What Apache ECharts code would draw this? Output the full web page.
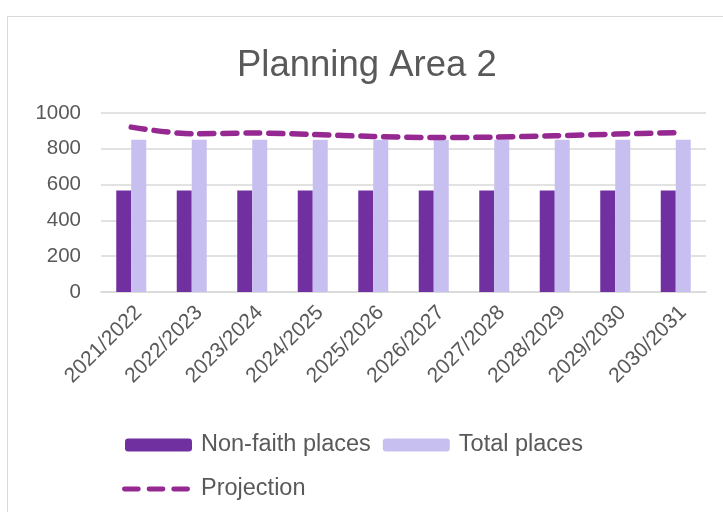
<!DOCTYPE html>
<html><head><meta charset="utf-8">
<script src="https://cdn.jsdelivr.net/npm/echarts@6/dist/echarts.min.js"></script>
<style>html,body{margin:0;padding:0;background:#fff}#c{width:723px;height:512px}</style>
</head><body><div id="c"></div>
<script>
const categories = ['2021/2022','2022/2023','2023/2024','2024/2025','2025/2026','2026/2027','2027/2028','2028/2029','2029/2030','2030/2031'];
const nonFaith = [567,567,567,567,567,567,567,567,567,567];
const totalPlaces = [851,851,851,851,851,851,851,851,851,851];
const projection = [921,884,888,880,869,863,865,873,882,890];
const yTicks = [0,200,400,600,800,1000];

const chart = echarts.init(document.getElementById('c'));
const font = '"Liberation Sans", Arial, sans-serif';
chart.setOption({
  animation: false,
  graphic: [{type:'rect', shape:{x:7.5,y:16.5,width:730,height:520}, style:{fill:'none', stroke:'#d9d9d9', lineWidth:1}}],
  title: {text:'Planning Area 2', left:232, top:42, textStyle:{fontFamily:font, fontSize:36.5, fontWeight:'normal', color:'#595959'}},
  grid: {left:101, right:17, top:113, bottom:220, containLabel:false},
  legend: [
    {data:['Non-faith places','Total places'], left:120, top:428, itemWidth:67, itemHeight:13, itemGap:12,
     textStyle:{fontFamily:font, fontSize:23.5, color:'#595959', padding:[0,0,0,4]}},
    {data:[{name:'Projection', icon:'path://M2,0h14a2,2 0 0 1 0,5h-14a2,2 0 0 1 0,-5z M27,0h14a2,2 0 0 1 0,5h-14a2,2 0 0 1 0,-5z M52,0h14a2,2 0 0 1 0,5h-14a2,2 0 0 1 0,-5z'}],
     left:117, top:472, itemWidth:68, itemHeight:5,
     textStyle:{fontFamily:font, fontSize:23.5, color:'#595959', padding:[0,0,0,6]}}
  ],
  xAxis: {type:'category', data:categories, axisTick:{show:false},
    axisLine:{lineStyle:{color:'#d9d9d9', width:1.5}},
    axisLabel:{rotate:45, fontFamily:font, fontSize:21, color:'#595959', margin:10, interval:0, verticalAlign:'top', align:'right'}},
  yAxis: {type:'value', min:0, max:1000, interval:200, axisLine:{show:false}, axisTick:{show:false},
    splitLine:{lineStyle:{color:'#d9d9d9', width:1.5}},
    axisLabel:{fontFamily:font, fontSize:20.5, color:'#595959', margin:20,
      formatter: v => yTicks.includes(v) ? String(v) : ''}},
  series: [
    {name:'Non-faith places', type:'bar', data:nonFaith, barWidth:15, barGap:'0%', itemStyle:{color:'#7030a0'}},
    {name:'Total places', type:'bar', data:totalPlaces, barWidth:15, barGap:'0%', itemStyle:{color:'#c7bfef'}},
    {name:'Projection', type:'line', data:projection, symbol:'none', smooth:0.3,
      lineStyle:{color:'#952891', width:5.5, type:[14,9], cap:'round'}, itemStyle:{color:'#952891'}}
  ]
});
</script></body></html>
